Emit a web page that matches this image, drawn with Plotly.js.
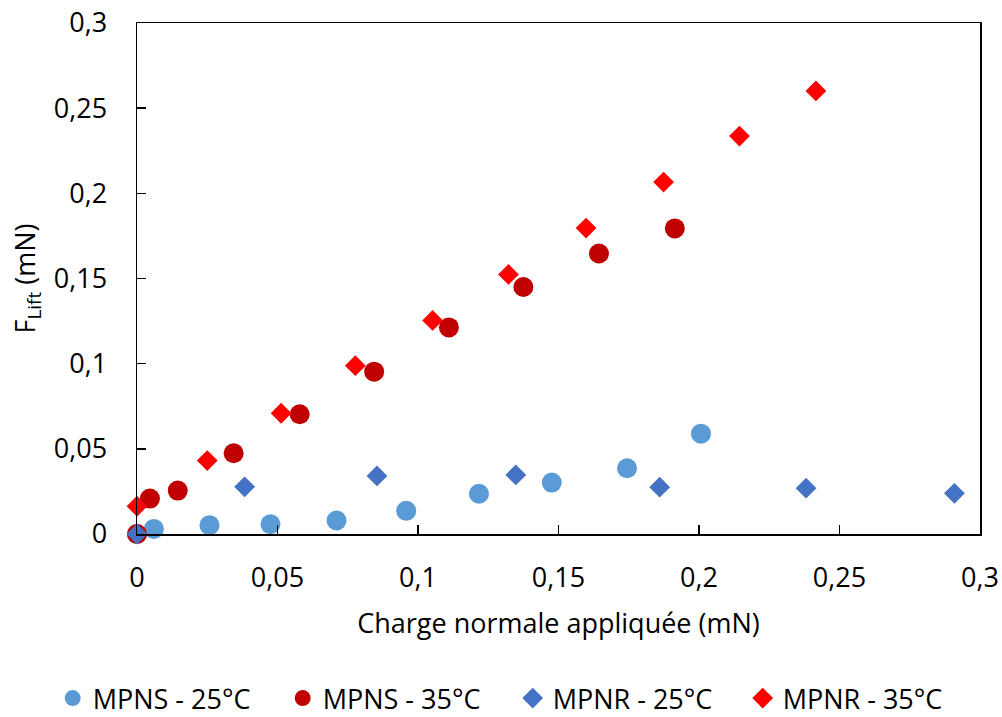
<!DOCTYPE html>
<html>
<head>
<meta charset="utf-8">
<script src="https://cdn.plot.ly/plotly-3.0.1.min.js"></script>
<style>html,body{margin:0;padding:0;background:#fff;}#chart{width:1002px;height:717px;}</style>
</head>
<body>
<div id="chart"></div>
<script>
// MPNS - 25°C
const mpns25_x = [0, 0.006, 0.0258, 0.0475, 0.071, 0.0958, 0.1217, 0.1476, 0.1744, 0.2007];
const mpns25_y = [0, 0.003, 0.0052, 0.0057, 0.0079, 0.0136, 0.0236, 0.0302, 0.0386, 0.0589];
// MPNS - 35°C
const mpns35_x = [0, 0.0046, 0.0145, 0.0344, 0.0579, 0.0844, 0.111, 0.1375, 0.1644, 0.1914];
const mpns35_y = [0, 0.0208, 0.0255, 0.0474, 0.0703, 0.0953, 0.1213, 0.145, 0.1647, 0.1794];
// MPNR - 25°C
const mpnr25_x = [0, 0.0383, 0.0854, 0.1348, 0.186, 0.2381, 0.2909];
const mpnr25_y = [0, 0.0277, 0.0341, 0.0347, 0.0275, 0.0269, 0.0239];
// MPNR - 35°C
const mpnr35_x = [0, 0.025, 0.0513, 0.0777, 0.1052, 0.1322, 0.1598, 0.1874, 0.2144, 0.2416];
const mpnr35_y = [0.0163, 0.0431, 0.0709, 0.0988, 0.1254, 0.1524, 0.1796, 0.2066, 0.2336, 0.2601];

const seriesNames = ["MPNS - 25°C", "MPNS - 35°C", "MPNR - 25°C", "MPNR - 35°C"];

const FONT = "'Open Sans', 'Noto Sans', sans-serif";
const FS = 27;

function trace(name, x, y, color, symbol, size) {
  return {
    type: 'scatter', mode: 'markers', name: name, x: x, y: y,
    cliponaxis: false,
    marker: {color: color, symbol: symbol, size: size, line: {width: 0}}
  };
}

const data = [
  trace(seriesNames[0], mpns25_x, mpns25_y, '#5B9BD5', 'circle', 20),
  trace(seriesNames[1], mpns35_x, mpns35_y, '#C00000', 'circle', 20),
  trace(seriesNames[2], mpnr25_x, mpnr25_y, '#4472C4', 'diamond', 16),
  trace(seriesNames[3], mpnr35_x, mpnr35_y, '#FF0000', 'diamond', 16)
];

const axisCommon = {
  range: [0, 0.3], dtick: 0.05, tick0: 0,
  tickformat: '~g',
  showgrid: false, zeroline: false,
  showline: true, linecolor: '#000', linewidth: 1.5, mirror: true,
  ticks: 'inside', ticklen: 9, tickwidth: 1.5, tickcolor: '#000',
  tickfont: {family: FONT, size: FS, color: '#000'}
};

const layout = {
  width: 1002, height: 717,
  margin: {l: 137, r: 22, t: 23, b: 183, autoexpand: false},
  paper_bgcolor: '#fff', plot_bgcolor: '#fff',
  separators: ', ',
  font: {family: FONT, color: '#000'},
  showlegend: true,
  legend: {
    orientation: 'h', x: -0.1, xanchor: 'left', xref: 'paper',
    y: -0.322, yanchor: 'middle', yref: 'paper',
    font: {family: FONT, size: FS, color: '#000'},
    itemwidth: 30, entrywidth: 185
  },
  xaxis: Object.assign({}, axisCommon, {
    title: {text: 'Charge normale appliquée (mN)', font: {family: FONT, size: FS, color: '#000'}, standoff: 20},
    ticklabelstandoff: 19
  }),
  yaxis: Object.assign({}, axisCommon, {
    title: {text: 'F<sub>Lift</sub> (mN)', font: {family: FONT, size: FS, color: '#000'}, standoff: 10},
    ticklabelstandoff: 23
  })
};

Plotly.newPlot('chart', data, layout, {displayModeBar: false, staticPlot: true});
</script>
</body>
</html>
